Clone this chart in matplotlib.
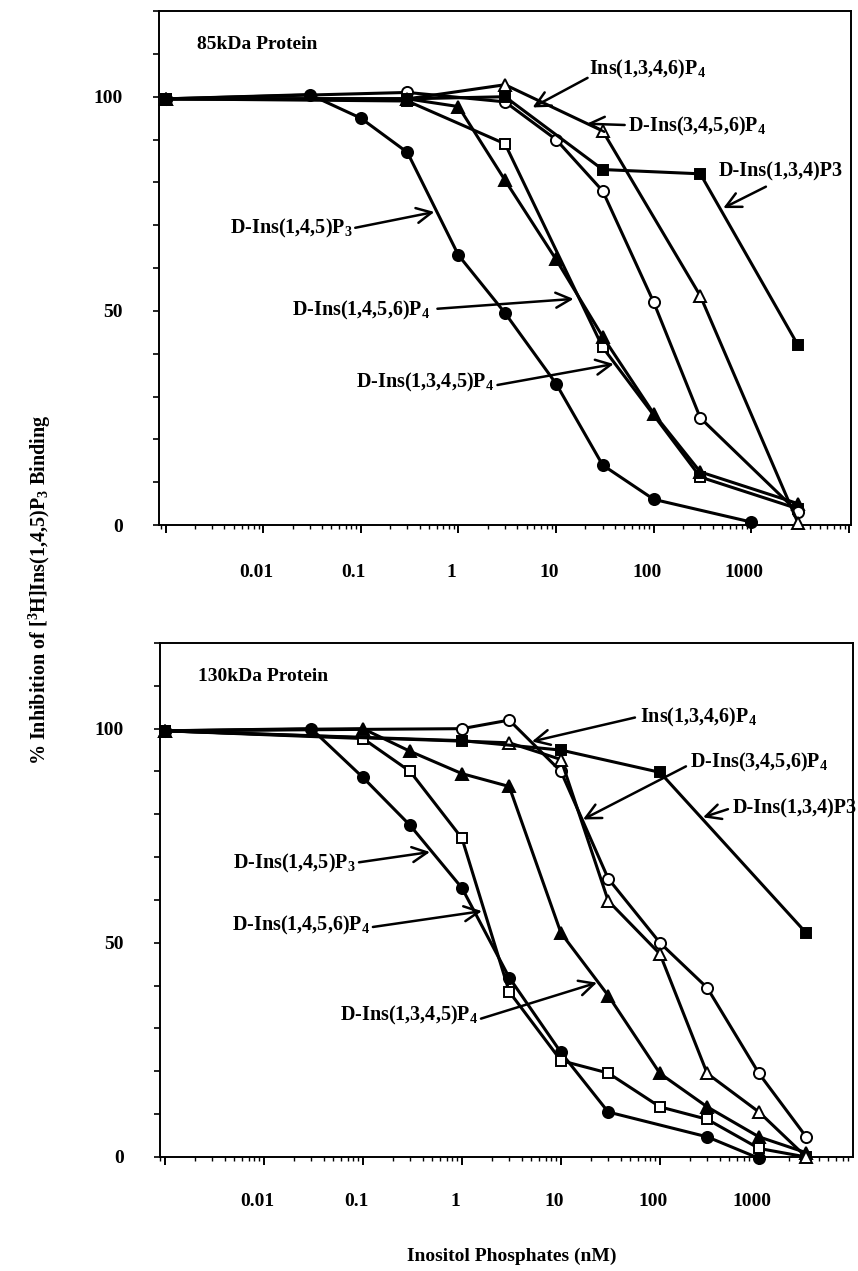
import numpy as np
import matplotlib
matplotlib.use('Agg')
import matplotlib.pyplot as plt
from matplotlib.ticker import FixedLocator, LogLocator, NullFormatter, MultipleLocator
from matplotlib.transforms import ScaledTranslation

plt.rcParams['font.family'] = ['Liberation Serif', 'DejaVu Serif']
plt.rcParams['font.weight'] = 'bold'
plt.rcParams['mathtext.fontset'] = 'custom'
plt.rcParams['mathtext.rm'] = 'Liberation Serif:bold'
plt.rcParams['mathtext.it'] = 'Liberation Serif:bold'
plt.rcParams['mathtext.bf'] = 'Liberation Serif:bold'

# ---- data: % inhibition vs concentration (nM); control plotted at 0.001 ----
# 85 kDa protein
p85_ins145p3_x = [0.001, 0.03, 0.1, 0.3, 1, 3, 10, 30, 100, 1000]
p85_ins145p3_y = [99.5, 100.5, 95, 87, 63, 49.5, 33, 14, 6, 0.7]
p85_ins1345p4_x = [0.001, 0.3, 3, 30, 300, 3000]
p85_ins1345p4_y = [99.5, 99, 89, 41.5, 11.2, 3.8]
p85_ins1456p4_x = [0.001, 0.3, 1, 3, 10, 30, 100, 300, 3000]
p85_ins1456p4_y = [99.5, 99.5, 97.7, 80.5, 62, 44, 26, 12.4, 5]
p85_ins1346p4_x = [0.001, 0.3, 3, 10, 30, 100, 300, 3000]
p85_ins1346p4_y = [99.5, 101, 98.8, 90, 78, 52, 25, 3]
p85_ins3456p4_x = [0.001, 0.3, 3, 30, 300, 3000]
p85_ins3456p4_y = [99.5, 99.5, 102.8, 92, 53.5, 0.5]
p85_ins134p3_x = [0.001, 0.3, 3, 30, 300, 3000]
p85_ins134p3_y = [99.5, 99.5, 100, 83, 82, 42]

# 130 kDa protein
p130_ins145p3_x = [0.001, 0.03, 0.1, 0.3, 1, 3, 10, 30, 300, 1000]
p130_ins145p3_y = [99.5, 100, 88.6, 77.4, 62.8, 41.9, 24.4, 10.5, 4.7, -0.3]
p130_ins1345p4_x = [0.001, 0.1, 0.3, 1, 3, 10, 30, 100, 300, 1000, 3000]
p130_ins1345p4_y = [99.5, 97.7, 90, 74.4, 38.6, 22.5, 19.6, 11.7, 8.8, 2, 0]
p130_ins1456p4_x = [0.001, 0.1, 0.3, 1, 3, 10, 30, 100, 300, 1000, 3000]
p130_ins1456p4_y = [99.5, 100, 94.7, 89.5, 86.5, 52.3, 37.7, 19.5, 11.7, 4.7, 1]
p130_ins1346p4_x = [0.001, 1, 3, 10, 30, 100, 300, 1000, 3000]
p130_ins1346p4_y = [99.5, 100, 102, 90, 65, 50, 39.5, 19.5, 4.7]
p130_ins3456p4_x = [0.001, 3, 10, 30, 100, 300, 1000, 3000]
p130_ins3456p4_y = [99.5, 96.7, 92.8, 59.8, 47.4, 19.5, 10.5, 0]
p130_ins134p3_x = [0.001, 1, 10, 100, 3000]
p130_ins134p3_y = [99.5, 97.2, 95, 89.8, 52.3]

xtick_vals = [0.001, 0.01, 0.1, 1, 10, 100, 1000, 10000]
xtick_labels = ['', '0.01', '0.1', '1', '10', '100', '1000', '']
ytick_vals = [0, 50, 100]

# marker, face colour, size
styles = [('o', 'k', 8), ('s', 'w', 7.5), ('^', 'k', 8.5),
          ('o', 'w', 8), ('^', 'w', 8.5), ('s', 'k', 7.5)]

# label, text position, ha, arrow tail, arrow head (all in data coords)
notes_85 = [
    (r'Ins(1,3,4,6)P$_4$', (21.5, 106.3), 'left', (21.0, 104.4), (5.74, 97.5)),
    (r'D-Ins(3,4,5,6)P$_4$', (54.1, 93), 'left', (50.4, 93.4), (20.6, 93.7)),
    (r'D-Ins(1,3,4)P3', (464, 82.5), 'left', (1409, 79), (515, 74)),
    (r'D-Ins(1,4,5)P$_3$', (0.0818, 69.2), 'right', (0.0877, 69.4), (0.567, 73.1)),
    (r'D-Ins(1,4,5,6)P$_4$', (0.516, 50.2), 'right', (0.609, 50.5), (15.1, 52.8)),
    (r'D-Ins(1,3,4,5)P$_4$', (2.34, 33.4), 'right', (2.51, 32.7), (38.9, 37.6)),
]
notes_130 = [
    (r'Ins(1,3,4,6)P$_4$', (62.8, 102.6), 'left', (55.9, 102.6), (5.09, 97)),
    (r'D-Ins(3,4,5,6)P$_4$', (201, 92), 'left', (183, 91.2), (16.7, 78.8)),
    (r'D-Ins(1,3,4)P3', (546, 81.4), 'left', (486, 81.2), (272, 79.3)),
    (r'D-Ins(1,4,5)P$_3$', (0.0849, 68.6), 'right', (0.0912, 68.8), (0.475, 71.2)),
    (r'D-Ins(1,4,5,6)P$_4$', (0.1177, 54), 'right', (0.126, 53.7), (1.59, 57.4)),
    (r'D-Ins(1,3,4,5)P$_4$', (1.45, 33), 'right', (1.556, 32.3), (23.1, 40.7)),
]


def draw_panel(ax, series, notes, title, xlim, xpad):
    for (x, y), (m, fc, ms) in zip(series, styles):
        ax.plot(x, y, color='k', lw=2.2, marker=m, markersize=ms,
                markerfacecolor=fc, markeredgecolor='k', markeredgewidth=1.4,
                clip_on=False, zorder=3)
    ax.set_xscale('log')
    ax.set_xlim(*xlim)
    ax.set_ylim(0, 120)
    ax.xaxis.set_major_locator(FixedLocator(xtick_vals))
    ax.set_xticklabels(xtick_labels)
    ax.xaxis.set_minor_locator(LogLocator(base=10, subs=np.arange(2, 10), numticks=20))
    ax.xaxis.set_minor_formatter(NullFormatter())
    ax.yaxis.set_major_locator(FixedLocator(ytick_vals))
    ax.yaxis.set_minor_locator(MultipleLocator(10))
    ax.tick_params(axis='x', which='major', direction='out', length=6, width=1.4,
                   pad=xpad, labelsize=14)
    ax.tick_params(axis='x', which='minor', direction='out', length=3, width=1.0)
    ax.tick_params(axis='y', which='both', direction='out', length=4, width=1.2,
                   pad=22, labelsize=14)
    # tick labels sit a little left of their ticks in the original
    shift = ScaledTranslation(-7 / 100, 0, ax.figure.dpi_scale_trans)
    for lab in ax.get_xticklabels():
        lab.set_transform(lab.get_transform() + shift)
    for s in ax.spines.values():
        s.set_linewidth(1.4)
    ax.text(0.055, 0.935, title, transform=ax.transAxes, fontsize=14,
            fontweight='bold', ha='left', va='center')
    for label, txy, ha, tail, head in notes:
        ax.text(txy[0], txy[1], label, fontsize=14.5, ha=ha, va='center')
        ax.annotate('', xy=head, xytext=tail,
                    arrowprops=dict(arrowstyle='->,head_length=0.6,head_width=0.3',
                                    lw=1.8, color='k', shrinkA=0, shrinkB=0,
                                    mutation_scale=18))


fig = plt.figure(figsize=(8.58, 12.71), dpi=100)
ax1 = fig.add_axes([0.1853, 0.5869, 0.8065, 0.4044])
ax2 = fig.add_axes([0.1865, 0.0897, 0.8077, 0.4044])

series85 = [(p85_ins145p3_x, p85_ins145p3_y), (p85_ins1345p4_x, p85_ins1345p4_y),
            (p85_ins1456p4_x, p85_ins1456p4_y), (p85_ins1346p4_x, p85_ins1346p4_y),
            (p85_ins3456p4_x, p85_ins3456p4_y), (p85_ins134p3_x, p85_ins134p3_y)]
series130 = [(p130_ins145p3_x, p130_ins145p3_y), (p130_ins1345p4_x, p130_ins1345p4_y),
             (p130_ins1456p4_x, p130_ins1456p4_y), (p130_ins1346p4_x, p130_ins1346p4_y),
             (p130_ins3456p4_x, p130_ins3456p4_y), (p130_ins134p3_x, p130_ins134p3_y)]

draw_panel(ax1, series85, notes_85, '85kDa Protein', (10 ** -3.067, 10 ** 4.02), 22)
draw_panel(ax2, series130, notes_130, '130kDa Protein', (10 ** -3.05, 10 ** 3.95), 20)

fig.text(40 / 858, 1 - 590 / 1271, r'% Inhibition of [$^3$H]Ins(1,4,5)P$_3$ Binding',
         rotation=90, ha='center', va='center', fontsize=14.5)
fig.text(512 / 858, 1 - 1256 / 1271, 'Inositol Phosphates (nM)',
         ha='center', va='center', fontsize=14)

fig.savefig('out.png', dpi=100)
